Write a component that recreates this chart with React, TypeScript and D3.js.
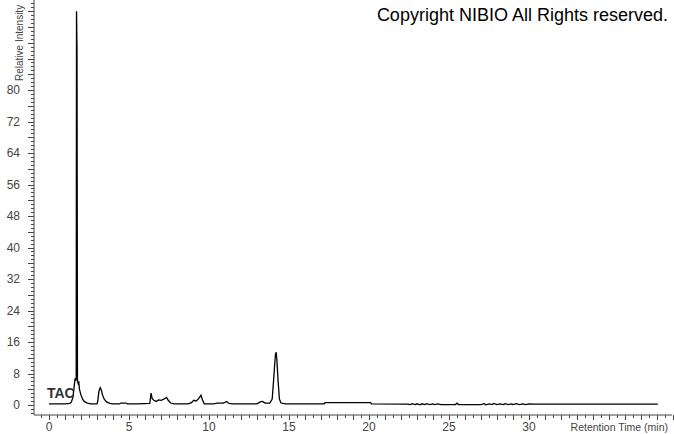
import React from 'react';
import * as d3 from 'd3';

// retention time (min) and relative intensity
const times = [
  0, 0.5, 1.0, 1.3, 1.4, 1.5, 1.58, 1.63, 1.68, 1.70, 1.72, 1.75, 1.78, 1.82, 1.86, 1.9, 2.0, 2.1, 2.2, 2.4, 2.6,
  3.0, 3.05, 3.12, 3.2, 3.27, 3.35, 3.45, 3.6, 3.8, 4.0, 4.4, 4.5, 4.8, 4.9, 5.5, 6.3, 6.38, 6.45, 6.55,
  6.7, 6.85, 7.0, 7.15, 7.35, 7.45, 7.6, 7.8, 8.7, 8.9, 9.05, 9.2, 9.35, 9.5, 9.58, 9.7, 10.3, 10.5, 10.9,
  11.1, 11.25, 11.5, 13.0, 13.2, 13.35, 13.5, 13.8, 13.95, 14.05, 14.15, 14.2, 14.25, 14.32, 14.4, 14.5,
  14.8, 17.2, 17.25, 20.1, 20.15, 22.4, 22.6, 22.7, 22.9, 23.0, 23.2, 23.3, 23.5, 23.6, 23.8, 24.0, 24.1,
  24.3, 24.5, 25.4, 25.5, 25.6, 27.0, 27.2, 27.3, 27.5, 27.7, 27.8, 28.0, 28.2, 28.4, 28.5, 28.7, 28.9,
  29.0, 29.2, 29.4, 29.6, 29.8, 30.0, 30.3, 32, 34, 36, 38.05,
];
const intensity = [
  0.3, 0.3, 0.3, 0.4, 0.8, 2.0, 5.0, 6.8, 6.2, 7.0, 100, 90.6, 6.0, 5.5, 6.0, 4.0, 2.5, 1.5, 0.9, 0.5, 0.3,
  0.3, 1.0, 3.5, 4.4, 3.8, 2.5, 1.5, 0.8, 0.4, 0.3, 0.3, 0.5, 0.5, 0.3, 0.3, 0.4, 3.0, 1.6, 1.2,
  0.9, 1.3, 1.2, 1.4, 1.9, 1.2, 0.5, 0.3, 0.3, 0.6, 1.2, 1.0, 1.6, 2.5, 1.4, 0.3, 0.3, 0.5, 0.5,
  0.9, 0.4, 0.3, 0.3, 0.8, 0.9, 0.5, 0.5, 1.5, 7.0, 12.8, 13.4, 11.0, 6.0, 1.5, 0.5,
  0.3, 0.3, 0.6, 0.6, 0.3, 0.2, 0.1, 0.35, 0.1, 0.3, 0.05, 0.3, 0.1, 0.35, 0.1, 0.3, 0.1,
  0.3, 0.1, 0.1, 0.45, 0.1, 0.1, 0.35, 0.05, 0.3, 0.1, 0.4, 0.1, 0.3, 0.1, 0.35, 0.1, 0.3,
  0.1, 0.35, 0.1, 0.3, 0.1, 0.3, 0.2, 0.2, 0.2, 0.2, 0.2,
];
const yLabels = [0, 8, 16, 24, 32, 40, 48, 56, 64, 72, 80];
const xLabels = [0, 5, 10, 15, 20, 25, 30];

export default function App() {
  const width = 674;
  const height = 434;
  const axisX = 34;
  const axisY = 415;

  const x = d3.scaleLinear().domain([0, 10]).range([49, 209]);
  const y = d3.scaleLinear().domain([0, 8]).range([405, 373.5]);

  const pts = times.map((t, i) => [t, intensity[i]] as [number, number]);
  const line = d3.line<[number, number]>().x(d => x(d[0])).y(d => y(d[1]));

  const yTicks = d3.range(-2, 104, 1);
  const xTicks = d3.range(-0.5, 39.01, 0.5);
  const grey = '#444';

  return (
    <svg width={width} height={height} style={{ position: 'absolute', left: 0, top: 0, background: '#fff' }}
      fontFamily="'Liberation Sans', Arial, sans-serif">
      <rect width={width} height={height} fill="#fff" />
      {/* y axis */}
      <line x1={axisX} x2={axisX} y1={0} y2={axisY} stroke={grey} />
      {yTicks.map(v => (
        <line key={'yt' + v} x1={axisX - (v % 4 === 0 ? 6 : 3)} x2={axisX} y1={Math.round(y(v)) + 0.5} y2={Math.round(y(v)) + 0.5} stroke={grey} />
      ))}
      {yLabels.map(v => (
        <text key={'yl' + v} x={20} y={y(v) + 4} textAnchor="end" fontSize={12} fill={grey}>{v}</text>
      ))}
      <text transform={`translate(23,81) rotate(-90)`} fontSize={10} fill={grey}>Relative Intensity</text>
      {/* x axis */}
      <line x1={axisX} x2={672} y1={axisY} y2={axisY} stroke={grey} />
      {xTicks.map(v => (
        <line key={'xt' + v} x1={Math.round(x(v)) + 0.5} x2={Math.round(x(v)) + 0.5} y1={axisY} y2={axisY + (v % 1 === 0 ? 5 : 3)} stroke={grey} />
      ))}
      {xLabels.map(v => (
        <text key={'xl' + v} x={x(v)} y={431} textAnchor="middle" fontSize={12} fill={grey}>{v}</text>
      ))}
      <text x={668} y={431} textAnchor="end" fontSize={10.5} fill={grey}>Retention Time (min)</text>
      {/* trace */}
      <path d={line(pts) || ''} fill="none" stroke="#000" strokeWidth={1.3} strokeLinejoin="miter" />
      <text x={47} y={398} fontSize={14} fontWeight="bold" fill="#333">TAC</text>
      <text x={668} y={21} textAnchor="end" fontSize={18} fill="#000">Copyright NIBIO All Rights reserved.</text>
    </svg>
  );
}
